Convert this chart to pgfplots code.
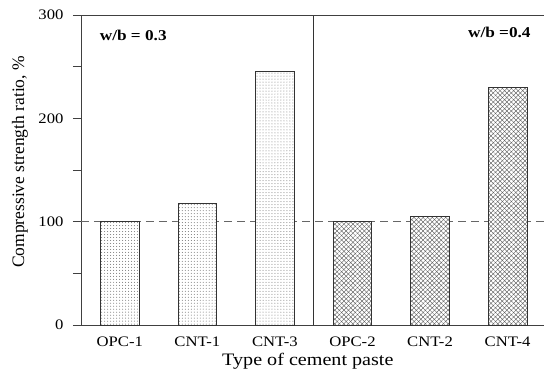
\documentclass[border=0pt]{standalone}
\usepackage{fontspec}
\setmainfont{Liberation Serif}[FakeStretch=1.15]
\newfontfamily\ylabfont{Liberation Serif}
\usepackage{pgfplots}
\pgfplotsset{compat=1.18}
\usetikzlibrary{patterns,patterns.meta}
\begin{document}
\begin{tikzpicture}
\begin{axis}[
  scale only axis,
  width=463bp, height=310bp,
  xmin=-0.5, xmax=5.47,
  ymin=0, ymax=300,
  axis x line=bottom, axis y line=left,
  axis line style={-, black!75, line width=0.8bp},
  xtick={0,1,2,3,4,5},
  xticklabels={OPC-1,CNT-1,CNT-3,OPC-2,CNT-2,CNT-4},
  x tick style={draw=none},
  ytick={0,100,200,300},
  minor ytick={50,150,250},
  tick align=outside,
  y tick style={black!75, line width=0.8bp},
  major tick length=8bp, minor tick length=8bp,
  tick label style={font=\fontsize{14.5bp}{17bp}\selectfont},
  /pgf/number format/assume math mode=true,
  yticklabel style={xshift=-6bp},
  xticklabel style={yshift=0bp},
  xlabel={Type of cement paste},
  ylabel={Compressive strength ratio, \%},
  xlabel style={font=\fontsize{17.5bp}{20bp}\selectfont, at={(axis description cs:0.49,0)}, anchor=center, yshift=-36bp},
  ylabel style={font=\ylabfont\fontsize{17.5bp}{20bp}\selectfont, at={(axis description cs:0,0.526)}, anchor=center, yshift=61bp},
  clip=false,
]
\addplot[black!60, dash pattern=on 8bp off 5bp, line width=0.8bp] coordinates {(-0.5,100) (5.47,100)};
\addplot[ybar, bar width=0.5, bar shift=0pt, draw=black!80, line width=0.7bp, fill=white, postaction={pattern=dots, pattern color=black!55}]
  coordinates {(0,100) (1,118) (2,245)};
\addplot[ybar, bar width=0.5, bar shift=0pt, draw=black!80, line width=0.7bp, fill=white,
  postaction={pattern={Lines[angle=45, distance=3.2bp, line width=0.35bp]}, pattern color=black!70},
  postaction={pattern={Lines[angle=-45, distance=3.2bp, line width=0.35bp]}, pattern color=black!70}]
  coordinates {(3,100) (4,105) (5,230)};
\addplot[black!80, line width=0.8bp] coordinates {(2.5,0) (2.5,300)};
\addplot[black!75, line width=0.8bp] coordinates {(-0.5,300) (5.47,300)};
\node[anchor=west, inner sep=0pt, font=\bfseries\fontsize{15bp}{18bp}\selectfont] at (axis cs:-0.26,280) {w/b = 0.3};
\node[anchor=east, inner sep=0pt, font=\bfseries\fontsize{15bp}{18bp}\selectfont] at (axis cs:5.3,283) {w/b =0.4};
\end{axis}
\pgfresetboundingbox
\path (current axis.south west) ++(-81bp,-44bp) rectangle ([yshift=15bp]current axis.north east);
\end{tikzpicture}
\end{document}
